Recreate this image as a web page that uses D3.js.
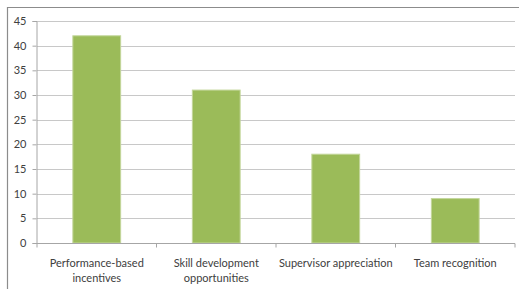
<!DOCTYPE html>
<html>
<head>
<meta charset="utf-8">
<script src="https://cdn.jsdelivr.net/npm/d3@7"></script>
<style>
  body { margin: 0; background: #fff; }
  svg text { font-family: Lato, "Open Sans", sans-serif; fill: #404040; }
</style>
</head>
<body>
<div id="chart"></div>
<script>
var width = 519, height = 289;

var categories = [
    ["Performance-based", "incentives"],
    ["Skill development", "opportunities"],
    ["Supervisor appreciation"],
    ["Team recognition"]
];
var values = [42, 31, 18, 9];
var yTicks = [0, 5, 10, 15, 20, 25, 30, 35, 40, 45];

var margin = {left: 37, right: 4, top: 21, bottom: 46};
var plotW = width - margin.left - margin.right;
var plotH = height - margin.top - margin.bottom;

var svg = d3.select("#chart")
    .append("svg")
    .attr("width", width)
    .attr("height", height);

// chart frame
svg.append("path")
    .attr("d", "M7.5," + height + "L7.5,7.5L" + width + ",7.5")
    .attr("stroke", "#8c8c8c")
    .attr("stroke-width", 1.2)
    .attr("fill", "none");

var g = svg.append("g")
    .attr("transform", "translate(" + margin.left + "," + margin.top + ")");

var x = d3.scaleBand()
    .domain(d3.range(categories.length))
    .range([0, plotW])
    .paddingInner(0.6)
    .paddingOuter(0.3);

var xCat = d3.scaleBand()
    .domain(d3.range(categories.length))
    .range([0, plotW]);

var y = d3.scaleLinear()
    .domain([0, 45])
    .range([plotH, 0]);

// gridlines
g.selectAll(".grid")
    .data(yTicks.slice(1))
    .enter()
    .append("line")
    .attr("x1", 0)
    .attr("x2", plotW)
    .attr("y1", function (d) { return Math.round(y(d)) + 0.5; })
    .attr("y2", function (d) { return Math.round(y(d)) + 0.5; })
    .attr("stroke", "#c8c8c8")
    .attr("stroke-width", 1);

// bars
g.selectAll(".bar")
    .data(values)
    .enter()
    .append("rect")
    .attr("x", function (d, i) { return x(i); })
    .attr("y", function (d) { return y(d); })
    .attr("width", x.bandwidth())
    .attr("height", function (d) { return plotH - y(d); })
    .attr("fill", "#9bbb59")
    .attr("stroke", "#c3d69b")
    .attr("stroke-width", 1);

// y axis
var yAxis = g.append("g")
    .attr("transform", "translate(-0.5,0)")
    .call(d3.axisLeft(y).tickValues(yTicks).tickSize(4).tickPadding(6));
yAxis.select(".domain").attr("stroke", "#a6a6a6");
yAxis.selectAll(".tick line").attr("stroke", "#a6a6a6");
yAxis.selectAll("text").attr("font-size", 11).style("font-family", "Lato, sans-serif").attr("fill", "#404040");

// x axis
var xAxisG = g.append("g")
    .attr("transform", "translate(0," + (Math.round(plotH) + 0.5) + ")");
xAxisG.append("line")
    .attr("x1", -0.5)
    .attr("x2", plotW)
    .attr("stroke", "#a6a6a6");
xAxisG.selectAll(".xtick")
    .data(d3.range(categories.length + 1))
    .enter()
    .append("line")
    .attr("x1", function (d) { return d * xCat.bandwidth(); })
    .attr("x2", function (d) { return d * xCat.bandwidth(); })
    .attr("y1", 0)
    .attr("y2", 4)
    .attr("stroke", "#a6a6a6");

// category labels
var labels = g.selectAll(".xlabel")
    .data(categories)
    .enter()
    .append("text")
    .attr("text-anchor", "middle")
    .attr("font-size", 11)
    .attr("transform", function (d, i) {
        return "translate(" + (xCat(i) + xCat.bandwidth() / 2) + "," + (plotH + 24) + ")";
    });
labels.selectAll("tspan")
    .data(function (d) { return d; })
    .enter()
    .append("tspan")
    .attr("x", 0)
    .attr("dy", function (d, i) { return i == 0 ? 0 : 14.5; })
    .text(function (d) { return d; });
</script>
</body>
</html>
